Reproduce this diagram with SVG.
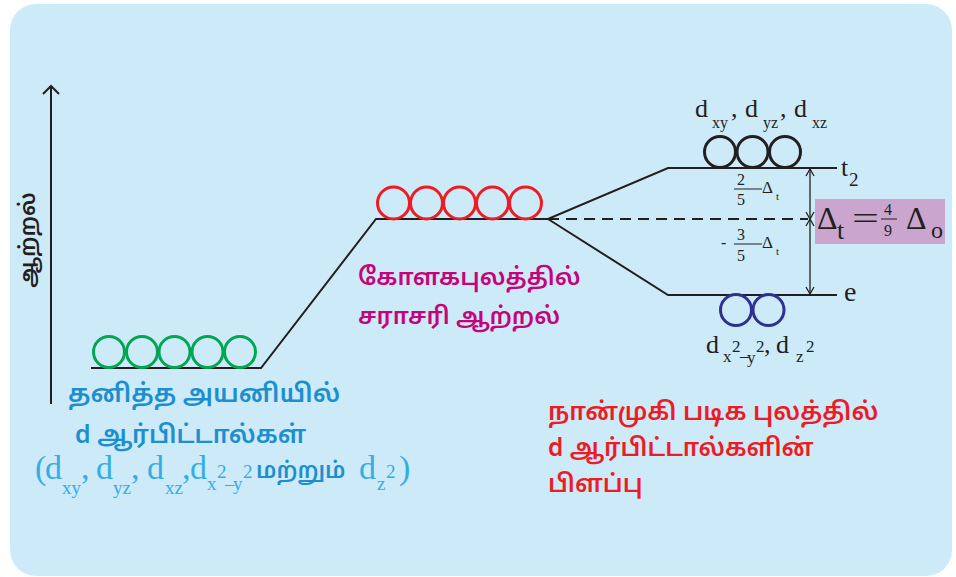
<svg xmlns="http://www.w3.org/2000/svg" width="956" height="577" viewBox="0 0 956 577">
<defs>
<style>
.ln{stroke:#231f20;stroke-width:2;fill:none}
.thin{stroke:#231f20;stroke-width:1.3;fill:none}
.ta{font-family:"Noto Sans Tamil","Lohit Tamil","Noto Sans",sans-serif;font-weight:600}
.sr{font-family:"Liberation Serif","DejaVu Serif",serif}
.blk{fill:#231f20}
.lb{fill:#1d8fcf}
.lb2{fill:#35ade3}
.mg{fill:#c5037a}
.rd{fill:#ed1c24}
</style>
</defs>
<rect x="10" y="4" width="942" height="572" rx="26" fill="#cdeaf9"/>

<g id="axis">
<line class="ln" x1="51" y1="86" x2="51" y2="404"/>
<polyline class="ln" points="43,94 51,86 59,94"/>
<text class="ta blk" font-size="22" text-anchor="middle" transform="translate(35,240) rotate(-90)">ஆற்றல்</text>
</g>

<g id="connectors">
<polyline class="ln" points="91,368 261,368 376,219 548,219 668,168 837,168"/>
<polyline class="ln" points="548,219 668,295 837,295"/>
<line class="ln" x1="548" y1="219" x2="808" y2="219" stroke-dasharray="11,7"/>
<line class="thin" x1="810" y1="169" x2="810" y2="294"/>
<polyline class="thin" points="806,176 810,169 814,176"/>
<polyline class="thin" points="806,212 810,219 814,212"/>
<polyline class="thin" points="806,226 810,219 814,226"/>
<polyline class="thin" points="806,287 810,294 814,287"/>
</g>

<g id="free-ion">
<g fill="none" stroke="#00a651" stroke-width="3">
<circle cx="109" cy="352" r="15.5"/>
<circle cx="142" cy="352" r="15.5"/>
<circle cx="174.5" cy="352" r="15.5"/>
<circle cx="207.5" cy="352" r="15.5"/>
<circle cx="240" cy="352" r="15.5"/>
</g>
<text class="ta lb" font-size="25.5" x="68" y="402">தனித்த அயனியில்</text>
<text class="ta lb" font-size="25" x="75" y="443">d ஆர்பிட்டால்கள்</text>
<g class="lb2 sr">
<text font-size="34" x="35" y="479">(</text>
<text font-size="34" x="45" y="479">d</text>
<text font-size="19" x="62" y="494">xy</text>
<text font-size="34" x="81" y="479">,</text>
<text font-size="34" x="96" y="479">d</text>
<text font-size="19" x="113" y="494">yz</text>
<text font-size="34" x="131" y="479">,</text>
<text font-size="34" x="147" y="479">d</text>
<text font-size="19" x="165" y="494">xz</text>
<text font-size="34" x="182" y="479">,</text>
<text font-size="34" x="190" y="479">d</text>
<text font-size="19" x="207" y="490">x</text>
<text font-size="19" x="217" y="478">2</text>
<text font-size="19" x="225" y="490">–</text>
<text font-size="19" x="233" y="490">y</text>
<text font-size="19" x="243" y="478">2</text>
<text font-size="34" x="359" y="479">d</text>
<text font-size="19" x="377" y="490">z</text>
<text font-size="19" x="386" y="478">2</text>
<text font-size="34" x="399" y="479">)</text>
</g>
<text class="ta lb" font-size="22.5" x="256" y="478">மற்றும்</text>
</g>

<g id="spherical">
<g fill="none" stroke="#ed1c24" stroke-width="3">
<circle cx="393.5" cy="203" r="16"/>
<circle cx="426.5" cy="203" r="16"/>
<circle cx="459.5" cy="203" r="16"/>
<circle cx="492.5" cy="203" r="16"/>
<circle cx="525.5" cy="203" r="16"/>
</g>
<text class="ta mg" font-size="24" x="358" y="285">கோளகபுலத்தில்</text>
<text class="ta mg" font-size="24" x="358" y="324">சராசரி ஆற்றல்</text>
</g>

<g id="t2">
<g fill="none" stroke="#231f20" stroke-width="3">
<circle cx="720" cy="152" r="15.5"/>
<circle cx="752.5" cy="152" r="15.5"/>
<circle cx="785" cy="152" r="15.5"/>
</g>
<g class="sr blk">
<text font-size="26" x="695" y="117">d</text>
<text font-size="16" x="712" y="128">xy</text>
<text font-size="26" x="731" y="117">,</text>
<text font-size="26" x="745" y="117">d</text>
<text font-size="16" x="763" y="128">yz</text>
<text font-size="26" x="780" y="117">,</text>
<text font-size="26" x="794" y="117">d</text>
<text font-size="16" x="812" y="128">xz</text>
<text font-size="26" x="841" y="176">t</text>
<text font-size="19" x="849" y="186">2</text>
</g>
</g>

<g id="e">
<g fill="none" stroke="#2e3192" stroke-width="3">
<circle cx="736" cy="310" r="15.5"/>
<circle cx="768.5" cy="310" r="15.5"/>
</g>
<g class="sr blk">
<text font-size="28" x="844" y="301">e</text>
<text font-size="26" x="706" y="353">d</text>
<text font-size="17" x="723" y="362">x</text>
<text font-size="17" x="732" y="352">2</text>
<text font-size="17" x="740" y="361">–</text>
<text font-size="17" x="747" y="363">y</text>
<text font-size="17" x="756" y="352">2</text>
<text font-size="26" x="764" y="353">,</text>
<text font-size="26" x="776" y="353">d</text>
<text font-size="17" x="796" y="362">z</text>
<text font-size="17" x="806" y="352">2</text>
</g>
</g>

<g id="split-labels" class="sr blk">
<text font-size="16" x="737" y="185">2</text>
<line x1="734" y1="189" x2="762" y2="189" stroke="#231f20" stroke-width="1"/>
<text font-size="16" x="737" y="205">5</text>
<text font-size="17" x="762" y="193">Δ</text>
<text font-size="11" x="776" y="200">t</text>
<text font-size="16" x="721" y="248">-</text>
<text font-size="16" x="737" y="240">3</text>
<line x1="734" y1="244" x2="762" y2="244" stroke="#231f20" stroke-width="1"/>
<text font-size="16" x="737" y="261">5</text>
<text font-size="17" x="762" y="248">Δ</text>
<text font-size="11" x="776" y="255">t</text>
</g>

<g id="delta-box">
<rect x="815" y="199" width="130" height="45" fill="#caa6cf"/>
<g class="sr blk">
<text font-size="32" x="817" y="229">Δ</text>
<text font-size="26" x="837" y="239">t</text>
<text font-size="32" x="852" y="229" textLength="27" lengthAdjust="spacingAndGlyphs">=</text>
<text font-size="16" x="884" y="215">4</text>
<line x1="881" y1="219" x2="897" y2="219" stroke="#231f20" stroke-width="1"/>
<text font-size="16" x="884" y="236">9</text>
<text font-size="32" x="906" y="229">Δ</text>
<text font-size="24" x="931" y="238">o</text>
</g>
</g>

<g id="tetrahedral-label">
<text class="ta rd" font-size="25" x="548" y="420">நான்முகி படிக புலத்தில்</text>
<text class="ta rd" font-size="24.5" x="548" y="456">d ஆர்பிட்டால்களின்</text>
<text class="ta rd" font-size="24.5" x="548" y="492">பிளப்பு</text>
</g>
</svg>
